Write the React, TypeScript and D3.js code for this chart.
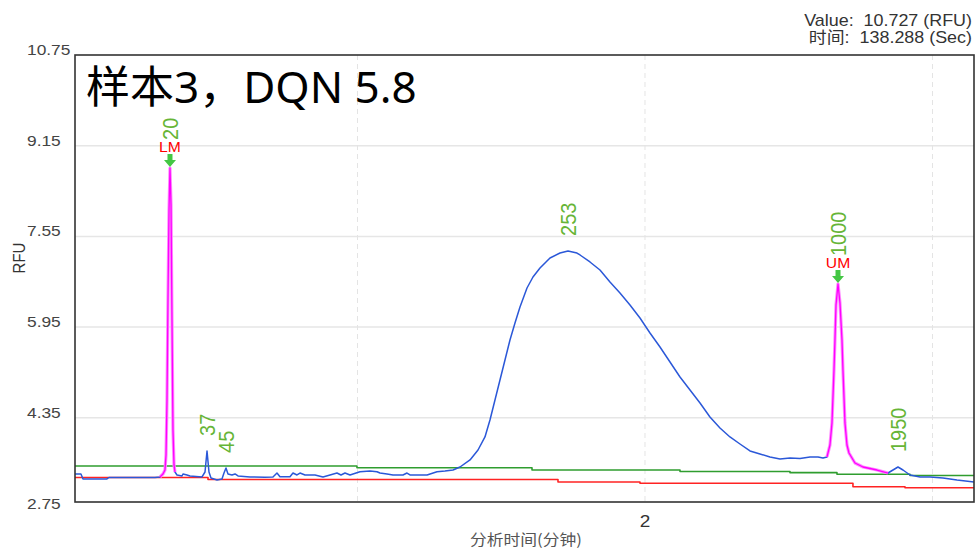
import React from 'react';
import * as d3 from 'd3';

// Electropherogram: fluorescence (RFU) against analysis time (minutes)
const WIDTH = 979;
const HEIGHT = 551;
const PLOT = { left: 75, top: 55, right: 974, bottom: 502 };

const X_DOMAIN = [1.0087, 2.5722];
const Y_DOMAIN = [2.75, 10.75];

// Sample trace
const SIGNAL_TIME = [
  1.0087, 1.0191, 1.0226, 1.0643, 1.0678, 1.1478, 1.1565, 1.1617, 1.1652, 1.167,
  1.1687, 1.1704, 1.1722, 1.1739, 1.1757, 1.1774, 1.1791, 1.1809, 1.1826, 1.1861,
  1.1948, 1.1965, 1.2035, 1.2087, 1.2296, 1.2348, 1.2383, 1.2417, 1.2452, 1.2557,
  1.2643, 1.2678, 1.2713, 1.2748, 1.2817, 1.287, 1.2922, 1.313, 1.3391, 1.353,
  1.36, 1.3652, 1.3826, 1.3878, 1.3948, 1.4, 1.4087, 1.4261, 1.44, 1.4522,
  1.4643, 1.4713, 1.4783, 1.487, 1.4922, 1.5043, 1.5217, 1.5339, 1.5391, 1.5513,
  1.5617, 1.5791, 1.5861, 1.5913, 1.6087, 1.6209, 1.6383, 1.6522, 1.6661, 1.6783,
  1.6957, 1.7096, 1.7217, 1.7304, 1.7391, 1.7478, 1.7565, 1.7652, 1.7739, 1.7826,
  1.7948, 1.8052, 1.8174, 1.8348, 1.8522, 1.8661, 1.8817, 1.887, 1.9043, 1.9217,
  1.9391, 1.9565, 1.9739, 1.9913, 2.0087, 2.0261, 2.0435, 2.0609, 2.0783, 2.0957,
  2.113, 2.1304, 2.1478, 2.1652, 2.1826, 2.2, 2.2174, 2.2348, 2.2522, 2.2696,
  2.287, 2.3009, 2.3096, 2.3165, 2.3217, 2.3252, 2.3287, 2.3304, 2.3322, 2.3357,
  2.3391, 2.3426, 2.3443, 2.3478, 2.3513, 2.3548, 2.3652, 2.3791, 2.4035, 2.4226,
  2.4313, 2.44, 2.4487, 2.4609, 2.4783, 2.4957, 2.5183, 2.5426, 2.5722,
];
const SIGNAL_RFU = [
  3.359, 3.359, 3.271, 3.271, 3.297, 3.297, 3.306, 3.359, 3.429, 3.694,
  4.664, 6.428, 8.016, 8.757, 8.104, 6.075, 4.135, 3.518, 3.394, 3.341,
  3.324, 3.359, 3.341, 3.324, 3.306, 3.394, 3.765, 3.394, 3.288, 3.253,
  3.271, 3.376, 3.465, 3.359, 3.341, 3.359, 3.324, 3.306, 3.301, 3.306,
  3.376, 3.311, 3.311, 3.376, 3.341, 3.376, 3.341, 3.341, 3.306, 3.341,
  3.376, 3.341, 3.376, 3.341, 3.359, 3.399, 3.412, 3.399, 3.376, 3.359,
  3.341, 3.341, 3.376, 3.341, 3.341, 3.341, 3.399, 3.412, 3.429, 3.482,
  3.606, 3.782, 4.012, 4.311, 4.664, 5.017, 5.37, 5.723, 6.022, 6.305,
  6.64, 6.834, 6.993, 7.169, 7.257, 7.293, 7.257, 7.222, 7.099, 6.957,
  6.746, 6.552, 6.34, 6.111, 5.846, 5.599, 5.335, 5.07, 4.841, 4.611,
  4.364, 4.17, 4.012, 3.888, 3.765, 3.712, 3.659, 3.623, 3.641, 3.632,
  3.659, 3.659, 3.641, 3.659, 3.87, 4.258, 5.193, 5.723, 6.34, 6.71,
  6.375, 5.723, 5.193, 4.258, 3.87, 3.729, 3.553, 3.482, 3.429, 3.376,
  3.429, 3.482, 3.429, 3.341, 3.306, 3.306, 3.288, 3.253, 3.218,
];

// Reference traces (step-wise baselines)
const GREEN_TIME = [1.0087, 1.4991, 1.8035, 2.0609, 2.2522, 2.3339, 2.4609, 2.5722];
const GREEN_RFU = [3.5, 3.47, 3.429, 3.403, 3.382, 3.354, 3.332, 3.332];
const RED_TIME = [1.0087, 1.24, 1.8487, 1.9913, 2.3617, 2.4522, 2.5722];
const RED_RFU = [3.297, 3.262, 3.218, 3.195, 3.135, 3.117, 3.117];

// Axis ticks
const Y_TICKS = [2.75, 4.35, 5.95, 7.55, 9.15, 10.75];
const X_GRID = [1.5, 2, 2.5];
const X_TICK_LABELS = [2];

// Called peaks (fragment size)
const PEAK_SIZES = ['20', '37', '45', '253', '1000', '1950'];
const PEAK_TIME = [1.1739, 1.2383, 1.2713, 1.8661, 2.3357, 2.44];
const PEAK_RFU = [8.757, 3.765, 3.465, 7.293, 6.71, 3.482];

// Size markers: lower / upper
const MARKER_NAMES = ['LM', 'UM'];
const MARKER_PEAK = [0, 4];
const MARKER_START = [1.1565, 2.3165];
const MARKER_END = [1.1826, 2.4226];

const TITLE = '样本3，DQN 5.8';
const READOUT = ['Value:  10.727 (RFU)', '时间:  138.288 (Sec)'];
const X_TITLE = '分析时间(分钟)';
const Y_TITLE = 'RFU';

const SANS = "'Liberation Sans', Arial, sans-serif";
const STRETCH = 1.12;

export default function App() {
  const x = d3.scaleLinear().domain(X_DOMAIN).range([PLOT.left, PLOT.right]);
  const y = d3.scaleLinear().domain(Y_DOMAIN).range([508.5, PLOT.top]);

  const idx = (n: number) => d3.range(n);

  const signalLine = d3
    .line<number>()
    .x((i) => x(SIGNAL_TIME[i]))
    .y((i) => y(SIGNAL_RFU[i]));

  const stepLine = (t: number[], v: number[]) =>
    d3
      .line<number>()
      .curve(d3.curveStepAfter)
      .x((i) => x(t[i]))
      .y((i) => y(v[i]))(idx(t.length)) as string;

  const signalPath = signalLine(idx(SIGNAL_TIME.length)) as string;
  const markerPaths = MARKER_NAMES.map((_, m) => {
    const ids = idx(SIGNAL_TIME.length).filter(
      (i) => SIGNAL_TIME[i] >= MARKER_START[m] - 1e-6 && SIGNAL_TIME[i] <= MARKER_END[m] + 1e-6
    );
    return signalLine(ids) as string;
  });

  const pw = PLOT.right - PLOT.left;
  const ph = PLOT.bottom - PLOT.top;

  return (
    <svg
      width={WIDTH}
      height={HEIGHT}
      style={{ position: 'absolute', left: 0, top: 0, background: '#fff' }}
    >
      <defs>
        <clipPath id="plot-clip">
          <rect x={PLOT.left} y={PLOT.top} width={pw} height={ph} />
        </clipPath>
      </defs>
      <rect x={0} y={0} width={WIDTH} height={HEIGHT} fill="#fff" />

      {/* grid */}
      {Y_TICKS.filter((v) => v > Y_DOMAIN[0] && v < Y_DOMAIN[1]).map((v) => (
        <line
          key={'gy' + v}
          x1={PLOT.left}
          x2={PLOT.right}
          y1={y(v)}
          y2={y(v)}
          stroke="#e6e6e6"
          strokeWidth={1.5}
        />
      ))}
      {X_GRID.map((t) => (
        <line
          key={'gx' + t}
          x1={x(t)}
          x2={x(t)}
          y1={PLOT.top}
          y2={PLOT.bottom}
          stroke="#e4e4e4"
          strokeWidth={1}
          strokeDasharray="5,4"
        />
      ))}

      {/* traces */}
      <g clipPath="url(#plot-clip)" fill="none" strokeLinejoin="round">
        <path d={stepLine(RED_TIME, RED_RFU)} stroke="#ff2323" strokeWidth={1.6} />
        <path d={stepLine(GREEN_TIME, GREEN_RFU)} stroke="#2f9d2f" strokeWidth={1.6} />
        <path d={signalPath} stroke="#2b58d8" strokeWidth={1.5} />
        {markerPaths.map((d, m) => (
          <g key={'mk' + m}>
            <path d={d} stroke="#ff8cff" strokeWidth={3.2} />
            <path d={d} stroke="#ff00ff" strokeWidth={1.3} />
          </g>
        ))}
      </g>

      {/* marker flags */}
      {MARKER_NAMES.map((name, m) => {
        const p = MARKER_PEAK[m];
        const px = x(PEAK_TIME[p]);
        const py = y(PEAK_RFU[p]) - 1;
        return (
          <g key={'flag' + m}>
            <path
              d={`M${px - 2.5},${py - 13} L${px + 2.5},${py - 13} L${px + 2.5},${py - 7} L${px + 6},${py - 7} L${px},${py} L${px - 6},${py - 7} L${px - 2.5},${py - 7} Z`}
              fill="#44c744"
            />
            <text
              transform={`translate(${px},${py - 15}) scale(${STRETCH},1)`}
              textAnchor="middle"
              fontFamily={SANS}
              fontSize={14}
              fill="#ff0000"
            >
              {name}
            </text>
          </g>
        );
      })}

      {/* peak size labels */}
      {PEAK_SIZES.map((s, i) => {
        const isMarker = MARKER_PEAK.includes(i);
        const px = x(PEAK_TIME[i]);
        const py = y(PEAK_RFU[i]) - (isMarker ? 28 : 15);
        return (
          <text
            key={'pk' + s}
            transform={`translate(${px},${py}) scale(${STRETCH},1) rotate(-90)`}
            dy="0.36em"
            fontFamily={SANS}
            fontSize={20}
            fill="#66b536"
          >
            {s}
          </text>
        );
      })}

      {/* frame */}
      <rect
        x={PLOT.left}
        y={PLOT.top}
        width={pw}
        height={ph}
        fill="none"
        stroke="#333"
        strokeWidth={1.6}
      />

      {/* y tick labels */}
      {Y_TICKS.map((v) => (
        <text
          key={'yt' + v}
          transform={`translate(27,${y(v)}) scale(${STRETCH},1)`}
          fontFamily={SANS}
          fontSize={15.5}
          fill="#444"
        >
          {v.toFixed(2)}
        </text>
      ))}

      {/* x tick labels */}
      {X_TICK_LABELS.map((t) => (
        <text
          key={'xt' + t}
          transform={`translate(${x(t)},527) scale(${STRETCH},1)`}
          textAnchor="middle"
          fontFamily={SANS}
          fontSize={17}
          fill="#333"
        >
          {t}
        </text>
      ))}

      {/* axis titles */}
      <text
        transform={`translate(526,545) scale(${STRETCH},1)`}
        textAnchor="middle"
        fontFamily="'Noto Sans CJK SC', sans-serif"
        fontSize={15}
        fill="#555"
      >
        {X_TITLE}
      </text>
      <text
        transform={`translate(19,258) scale(${STRETCH},1) rotate(-90)`}
        textAnchor="middle"
        dy="0.36em"
        fontFamily={SANS}
        fontSize={15}
        fill="#333"
      >
        {Y_TITLE}
      </text>

      {/* cursor readout */}
      {READOUT.map((line, i) => (
        <text
          key={'ro' + i}
          transform={`translate(972,${26 + i * 17}) scale(${STRETCH},1)`}
          textAnchor="end"
          fontFamily={`${SANS.split(',')[0]}, 'Noto Sans CJK SC', sans-serif`}
          fontSize={16}
          fill="#333"
          style={{ whiteSpace: 'pre' }}
        >
          {line}
        </text>
      ))}

      {/* title */}
      <text
        x={86}
        y={103}
        fontFamily="'Noto Sans', 'Noto Sans CJK SC', sans-serif"
        fontSize={44}
        fill="#000"
      >
        {TITLE}
      </text>
    </svg>
  );
}
